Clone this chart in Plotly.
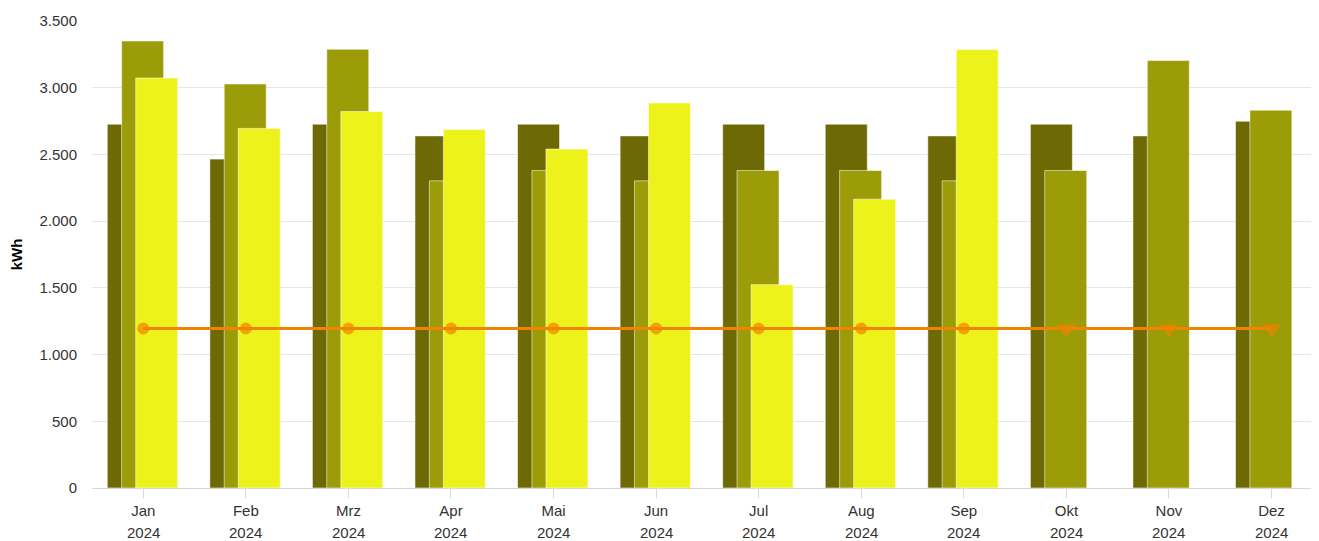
import plotly.graph_objects as go

months = ["Jan", "Feb", "Mrz", "Apr", "Mai", "Jun", "Jul", "Aug", "Sep", "Okt", "Nov", "Dez"]
year_label = "2024"
series_dark = [2727, 2465, 2727, 2639, 2727, 2639, 2727, 2727, 2639, 2727, 2639, 2749]
series_mid = [3350, 3028, 3288, 2302, 2380, 2302, 2380, 2380, 2302, 2380, 3204, 2832]
series_bright = [3073, 2695, 2822, 2687, 2540, 2886, 1524, 2165, 3286]
line_values = [1196] * 12
line_symbols = ["circle"] * 9 + ["triangle-down"] * 3
line_sizes = [12] * 9 + [17] * 3
y_ticks = [0, 500, 1000, 1500, 2000, 2500, 3000, 3500]

x_idx = list(range(len(months)))
FONT = "Liberation Sans, Arial, sans-serif"
FS = 15
BAR_W = 0.4095
border = dict(color="rgba(255,255,255,0.55)", width=1)

fig = go.Figure()
fig.add_trace(go.Bar(x=x_idx, y=series_dark, width=BAR_W, offset=-0.351,
                     marker=dict(color="#6d6a05", line=border), hoverinfo="y"))
fig.add_trace(go.Bar(x=x_idx, y=series_mid, width=BAR_W, offset=-0.211,
                     marker=dict(color="#9c9b08", line=border), hoverinfo="y"))
fig.add_trace(go.Bar(x=x_idx[:len(series_bright)], y=series_bright, width=BAR_W, offset=-0.074,
                     marker=dict(color="#eef21b", line=border), hoverinfo="y"))
fig.add_trace(go.Scatter(x=x_idx, y=line_values, mode="lines+markers",
                         line=dict(color="#f08300", width=3),
                         marker=dict(symbol=line_symbols, size=line_sizes, color="#f08300",
                                     line=dict(width=0)),
                         hoverinfo="y"))

for i in x_idx:
    fig.add_annotation(x=i, y=0, xref="x", yref="paper", text=year_label,
                       showarrow=False, yanchor="top", yshift=-34,
                       font=dict(family=FONT, size=FS, color="#333333"))

# page body has an 8px default margin, so the figure is sized to fill the rest
fig.update_layout(
    width=1311, height=533,
    margin=dict(l=84, r=0, t=13, b=53),
    barmode="overlay",
    showlegend=False,
    plot_bgcolor="white", paper_bgcolor="white",
    separators=",.",
    font=dict(family=FONT, size=FS, color="#333333"),
    xaxis=dict(range=[-0.5, 11.463], tickvals=x_idx, ticktext=months,
               automargin=False,
               showgrid=False, zeroline=False,
               showline=True, linecolor="#d8d8d8", linewidth=1,
               ticks="outside", ticklen=9, tickcolor="#d8d8d8",
               tickfont=dict(family=FONT, size=FS, color="#333333")),
    yaxis=dict(range=[0, 3500], tickvals=y_ticks, tickformat=",d",
               automargin=False,
               showgrid=True, gridcolor="#e6e6e6", gridwidth=1,
               zeroline=False, showline=False, ticks="",
               ticklabelstandoff=14,
               tickfont=dict(family=FONT, size=FS, color="#333333"),
               title=dict(text="<b>kWh</b>", standoff=20,
                          font=dict(family=FONT, size=15, color="#000000"))),
)

fig.write_html("out.html")
